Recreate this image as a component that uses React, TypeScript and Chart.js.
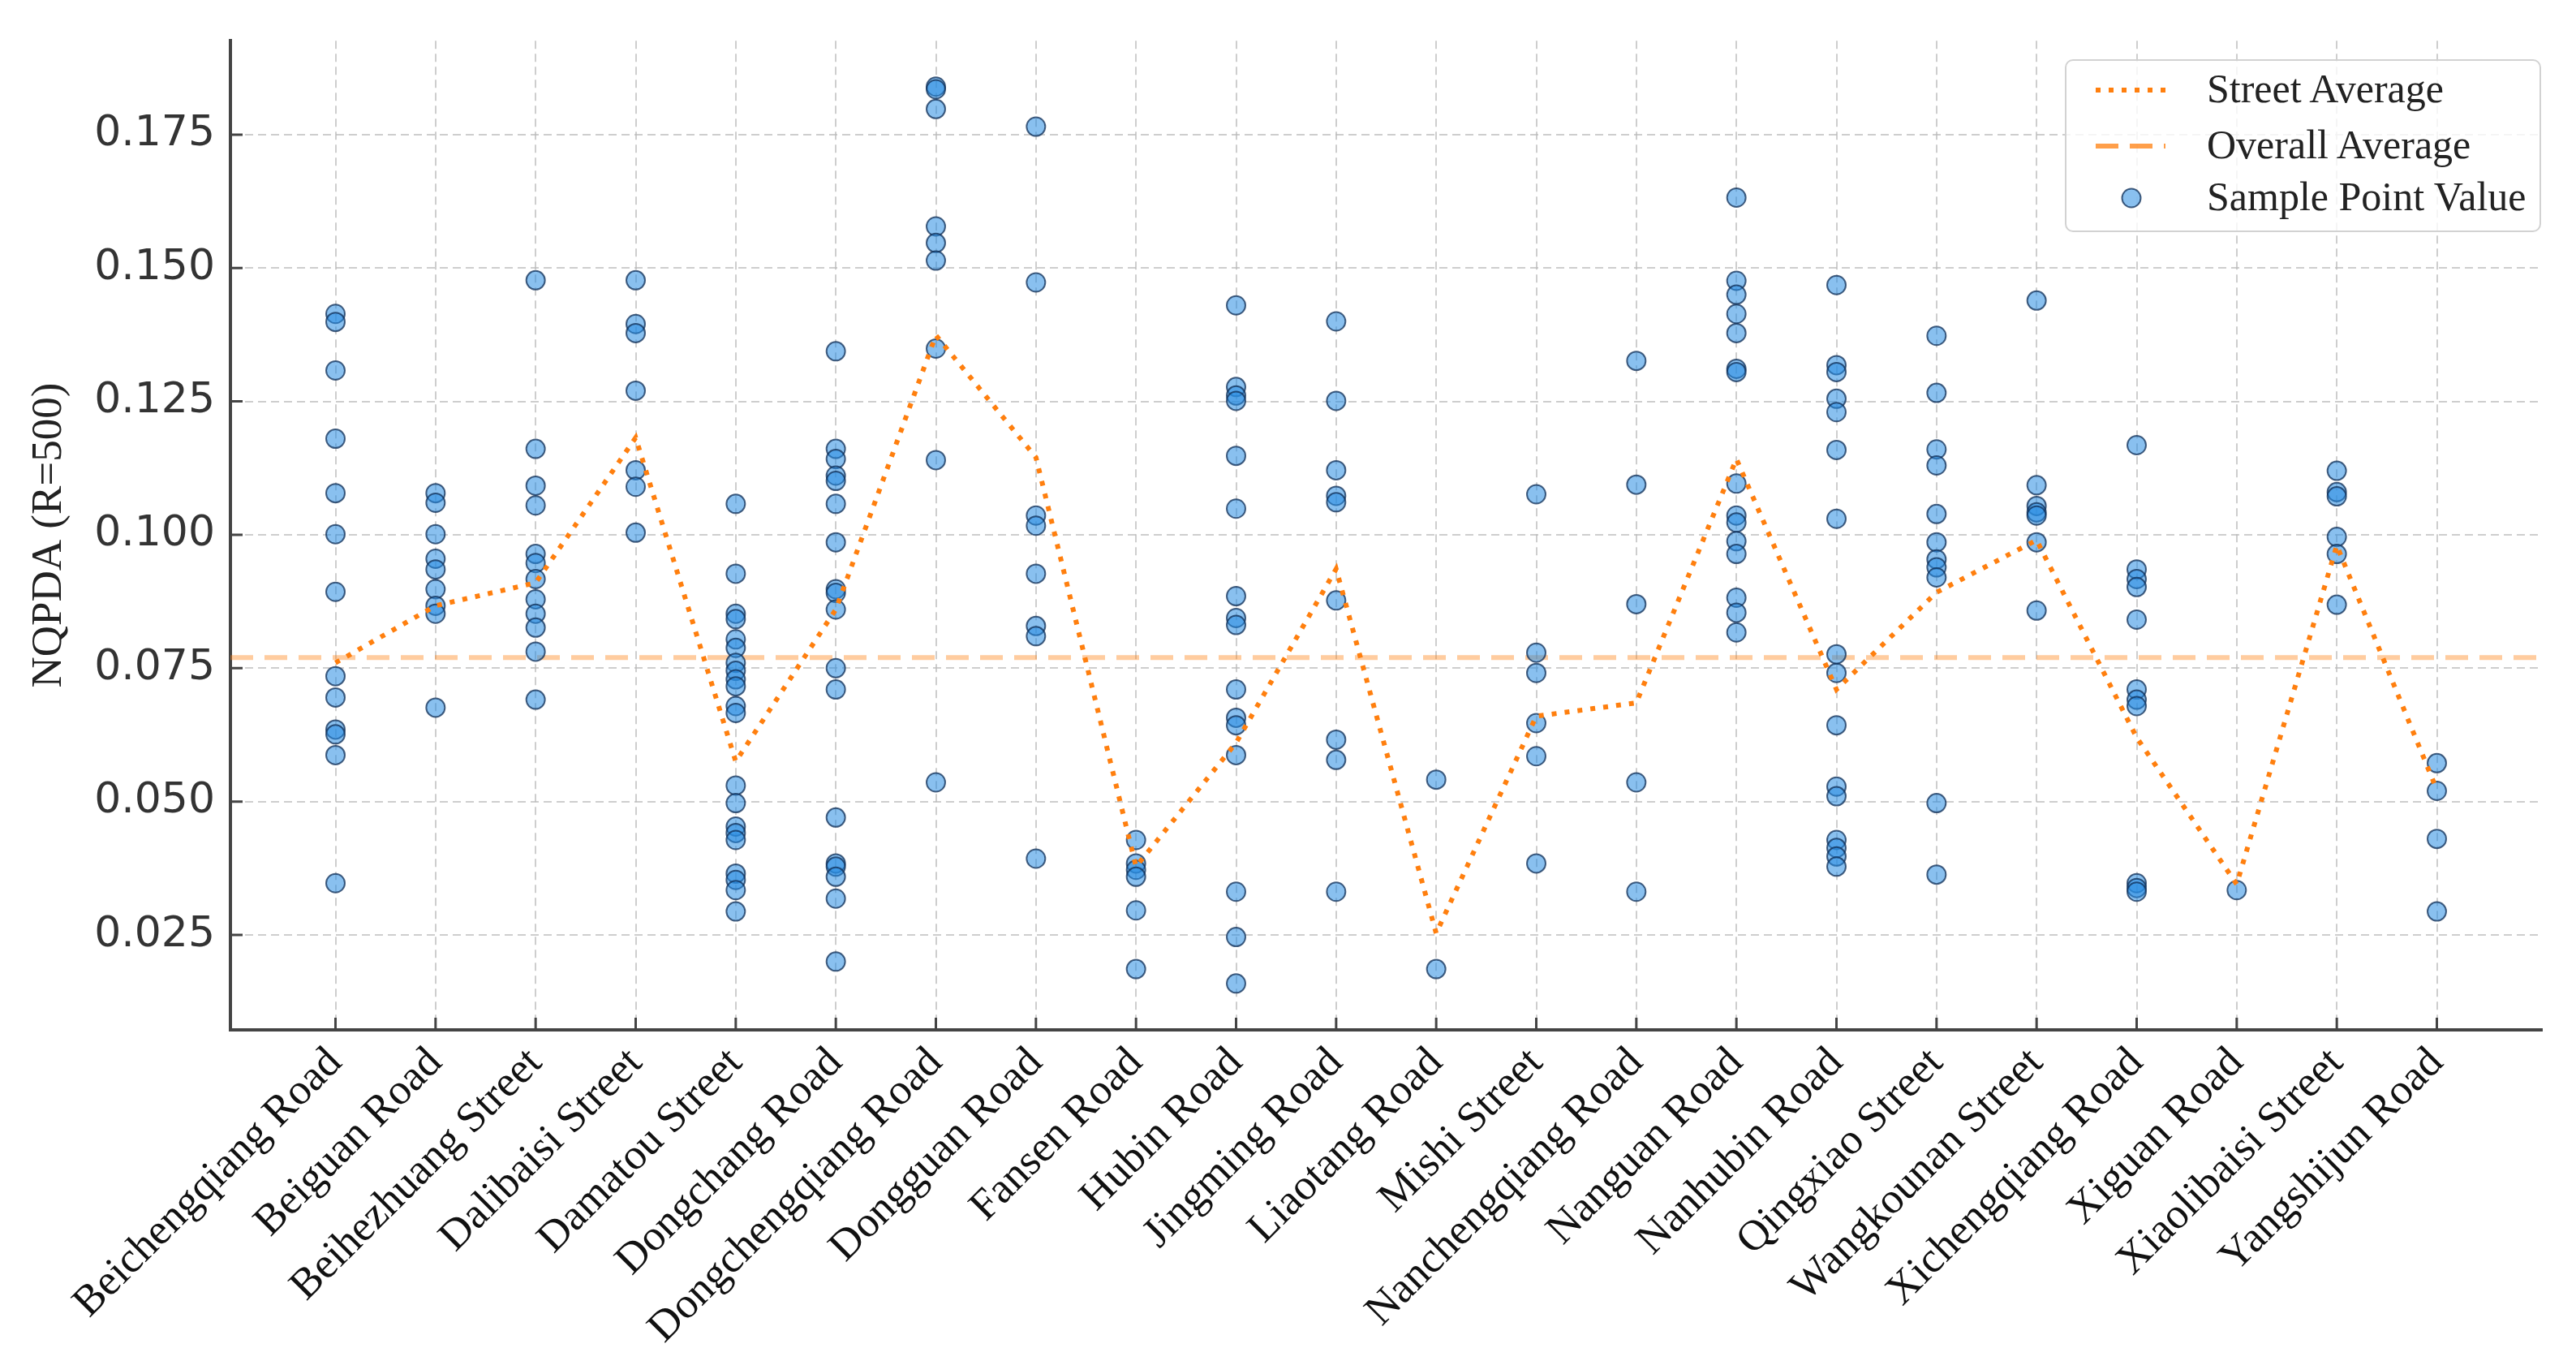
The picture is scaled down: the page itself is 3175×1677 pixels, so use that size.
import React, { useRef, useEffect } from "react";
import { Chart, registerables } from "chart.js";

Chart.register(...registerables);

const streets = [
  "Beichengqiang Road",
  "Beiguan Road",
  "Beihezhuang Street",
  "Dalibaisi Street",
  "Damatou Street",
  "Dongchang Road",
  "Dongchengqiang Road",
  "Dongguan Road",
  "Fansen Road",
  "Hubin Road",
  "Jingming Road",
  "Liaotang Road",
  "Mishi Street",
  "Nanchengqiang Road",
  "Nanguan Road",
  "Nanhubin Road",
  "Qingxiao Street",
  "Wangkounan Street",
  "Xichengqiang Road",
  "Xiguan Road",
  "Xiaolibaisi Street",
  "Yangshijun Road",
];

// sample point values, one list per street (same order as streets)
const sampleValues: number[][] = [
  [0.1414, 0.1399, 0.1308, 0.118, 0.1078, 0.1001, 0.0893, 0.0735, 0.0695, 0.0635, 0.0626, 0.0587, 0.0347],
  [0.1078, 0.106, 0.1001, 0.0955, 0.0935, 0.0898, 0.0867, 0.0852, 0.0676],
  [0.1477, 0.1161, 0.1092, 0.1055, 0.0964, 0.0947, 0.0917, 0.0879, 0.0852, 0.0826, 0.0781, 0.0691],
  [0.1477, 0.1395, 0.1378, 0.127, 0.1121, 0.109, 0.1004],
  [0.1058, 0.0927, 0.0852, 0.0842, 0.0804, 0.0788, 0.076, 0.0745, 0.0729, 0.0716, 0.0679, 0.0666, 0.053, 0.0497, 0.0453, 0.0441, 0.0428, 0.0365, 0.0353, 0.0334, 0.0294],
  [0.1344, 0.1161, 0.1142, 0.1111, 0.1101, 0.1058, 0.0986, 0.0898, 0.0891, 0.086, 0.075, 0.071, 0.047, 0.0384, 0.0378, 0.0359, 0.0318, 0.02],
  [0.184, 0.1835, 0.1798, 0.1578, 0.1547, 0.1514, 0.1349, 0.114, 0.0536],
  [0.1765, 0.1473, 0.1036, 0.1017, 0.0927, 0.0829, 0.081, 0.0393],
  [0.0428, 0.0384, 0.0372, 0.0359, 0.0296, 0.0186],
  [0.143, 0.1277, 0.1261, 0.1251, 0.1148, 0.1049, 0.0885, 0.0844, 0.0831, 0.071, 0.0657, 0.0643, 0.0587, 0.0331, 0.0246, 0.0159],
  [0.14, 0.1251, 0.1121, 0.1073, 0.1061, 0.0877, 0.0616, 0.0578, 0.0331],
  [0.0541, 0.0186],
  [0.1076, 0.0779, 0.0741, 0.0647, 0.0585, 0.0384],
  [0.1326, 0.1094, 0.087, 0.0536, 0.0331],
  [0.1632, 0.1476, 0.145, 0.1414, 0.1378, 0.1311, 0.1305, 0.1096, 0.1036, 0.1023, 0.0988, 0.0964, 0.0882, 0.0854, 0.0817],
  [0.1468, 0.1318, 0.1305, 0.1255, 0.123, 0.1159, 0.103, 0.0776, 0.0741, 0.0643, 0.0528, 0.051, 0.0428, 0.0413, 0.0397, 0.0378],
  [0.1373, 0.1266, 0.116, 0.113, 0.1039, 0.0986, 0.0954, 0.0939, 0.092, 0.0497, 0.0363],
  [0.1439, 0.1093, 0.1054, 0.1042, 0.1036, 0.0986, 0.0858],
  [0.1168, 0.0935, 0.0917, 0.0902, 0.0841, 0.071, 0.0691, 0.0679, 0.0347, 0.0338, 0.0331],
  [0.0334],
  [0.112, 0.108, 0.1072, 0.0996, 0.0964, 0.0869],
  [0.0572, 0.052, 0.043, 0.0294],
];

const streetAverages = [
  0.076, 0.0867, 0.091, 0.1182, 0.0575, 0.086, 0.1374, 0.1145, 0.0378, 0.061, 0.0936,
  0.0253, 0.066, 0.0685, 0.1142, 0.071, 0.0892, 0.099, 0.062, 0.0345, 0.098, 0.0522,
];

const overallAverage = 0.077;

const yTicks = [0.025, 0.05, 0.075, 0.1, 0.125, 0.15, 0.175];

const X_MIN = -1.05;
const X_MAX = 22.05;
const Y_MIN = 0.0072;
const Y_MAX = 0.1926;

const POINT_FILL = "rgba(40, 140, 225, 0.55)";
const POINT_EDGE = "rgba(15, 45, 85, 0.75)";
const ORANGE = "#ff7f0e";

// matplotlib-style inward tick marks
const innerTicks = {
  id: "innerTicks",
  afterDraw(chart: any) {
    const { ctx, chartArea, scales } = chart;
    ctx.save();
    ctx.strokeStyle = "#444";
    ctx.lineWidth = 3;
    ctx.beginPath();
    scales.x.ticks.forEach((t: any) => {
      const px = scales.x.getPixelForValue(t.value);
      ctx.moveTo(px, chartArea.bottom);
      ctx.lineTo(px, chartArea.bottom - 15);
    });
    scales.y.ticks.forEach((t: any) => {
      const py = scales.y.getPixelForValue(t.value);
      ctx.moveTo(chartArea.left, py);
      ctx.lineTo(chartArea.left + 15, py);
    });
    ctx.stroke();
    ctx.restore();
  },
};

const App: React.FC = () => {
  const chartRef = useRef<HTMLCanvasElement | null>(null);

  useEffect(() => {
    if (!chartRef.current) return;
    const ctx = chartRef.current.getContext("2d");
    if (!ctx) return;

    const points = streets.flatMap((_, i) =>
      sampleValues[i].map((v) => ({ x: i, y: v }))
    );

    const chartInstance = new Chart(ctx, {
      type: "scatter",
      data: {
        datasets: [
          {
            type: "line",
            label: "Street Average",
            data: streetAverages.map((v, i) => ({ x: i, y: v })),
            borderColor: ORANGE,
            borderWidth: 6,
            borderDash: [6, 10],
            pointRadius: 0,
            fill: false,
            tension: 0,
            order: 0,
          },
          {
            type: "scatter",
            label: "Sample Point Value",
            data: points,
            backgroundColor: POINT_FILL,
            borderColor: POINT_EDGE,
            borderWidth: 2,
            pointRadius: 11.5,
            order: 1,
          },
          {
            type: "line",
            label: "Overall Average",
            data: [
              { x: X_MIN, y: overallAverage },
              { x: X_MAX, y: overallAverage },
            ],
            borderColor: "rgba(255, 127, 14, 0.4)",
            borderWidth: 6,
            borderDash: [28, 14],
            pointRadius: 0,
            fill: false,
            order: 2,
          },
        ],
      } as any,
      options: {
        responsive: false,
        animation: false,
        layout: { padding: { top: 45, right: 42, left: 0, bottom: 0 } },
        plugins: {
          legend: { display: false },
          tooltip: { enabled: false },
        },
        scales: {
          x: {
            type: "linear",
            min: X_MIN,
            max: X_MAX,
            afterBuildTicks: (s: any) => {
              s.ticks = streets.map((_, i) => ({ value: i }));
            },
            afterFit: (s: any) => {
              s.height = 408;
            },
            ticks: {
              autoSkip: false,
              minRotation: 45,
              maxRotation: 45,
              padding: 10,
              color: "#111",
              font: { family: "Liberation Serif", size: 53 },
              callback: (v: any) => streets[v as number],
            },
            grid: {
              color: "rgba(185, 185, 185, 0.7)",
              lineWidth: 2,
              drawTicks: false,
            },
            border: { display: true, color: "#444", width: 4, dash: [10, 6] },
          },
          y: {
            type: "linear",
            min: Y_MIN,
            max: Y_MAX,
            afterBuildTicks: (s: any) => {
              s.ticks = yTicks.map((v) => ({ value: v }));
            },
            afterFit: (s: any) => {
              s.width = 284;
            },
            ticks: {
              padding: 19,
              color: "#333",
              font: { family: "DejaVu Sans", size: 52 },
              callback: (v: any) => Number(v).toFixed(3),
            },
            grid: {
              color: "rgba(185, 185, 185, 0.7)",
              lineWidth: 2,
              drawTicks: false,
            },
            border: { display: true, color: "#444", width: 4, dash: [10, 6] },
            title: {
              display: true,
              text: "NQPDA (R=500)",
              color: "#222",
              font: { family: "Liberation Serif", size: 53 },
              padding: { top: 29, bottom: 0 },
            },
          },
        },
      } as any,
      plugins: [innerTicks],
    });

    return () => {
      chartInstance.destroy();
    };
  }, []);

  const legendText: React.CSSProperties = {
    position: "absolute",
    left: 173,
    fontFamily: "Liberation Serif",
    fontSize: 50,
    color: "#222",
    lineHeight: "50px",
    whiteSpace: "nowrap",
  };

  return (
    <div
      style={{
        position: "fixed",
        left: 0,
        top: 0,
        width: 3175,
        height: 1677,
        background: "#fff",
      }}
    >
      <canvas ref={chartRef} width={3175} height={1677} style={{ width: 3175, height: 1677 }} />

      {/* Legend */}
      <div
        style={{
          position: "absolute",
          left: 2545,
          top: 73,
          width: 583,
          height: 209,
          border: "2px solid rgba(205, 205, 205, 0.9)",
          borderRadius: 10,
          background: "rgba(255, 255, 255, 0.8)",
        }}
      >
        <svg width={140} height={209} style={{ position: "absolute", left: 0, top: 0 }}>
          <line x1={36} y1={36} x2={122} y2={36} stroke={ORANGE} strokeWidth={6} strokeDasharray="6 10" />
          <line x1={36} y1={105} x2={122} y2={105} stroke="rgba(255, 127, 14, 0.75)" strokeWidth={6} strokeDasharray="28 14" />
          <circle cx={80} cy={169} r={11.5} fill={POINT_FILL} stroke={POINT_EDGE} strokeWidth={2} />
        </svg>
        <div style={{ ...legendText, top: 36 - 27 }}>Street Average</div>
        <div style={{ ...legendText, top: 105 - 27 }}>Overall Average</div>
        <div style={{ ...legendText, top: 169 - 27 }}>Sample Point Value</div>
      </div>
    </div>
  );
};

export default App;
